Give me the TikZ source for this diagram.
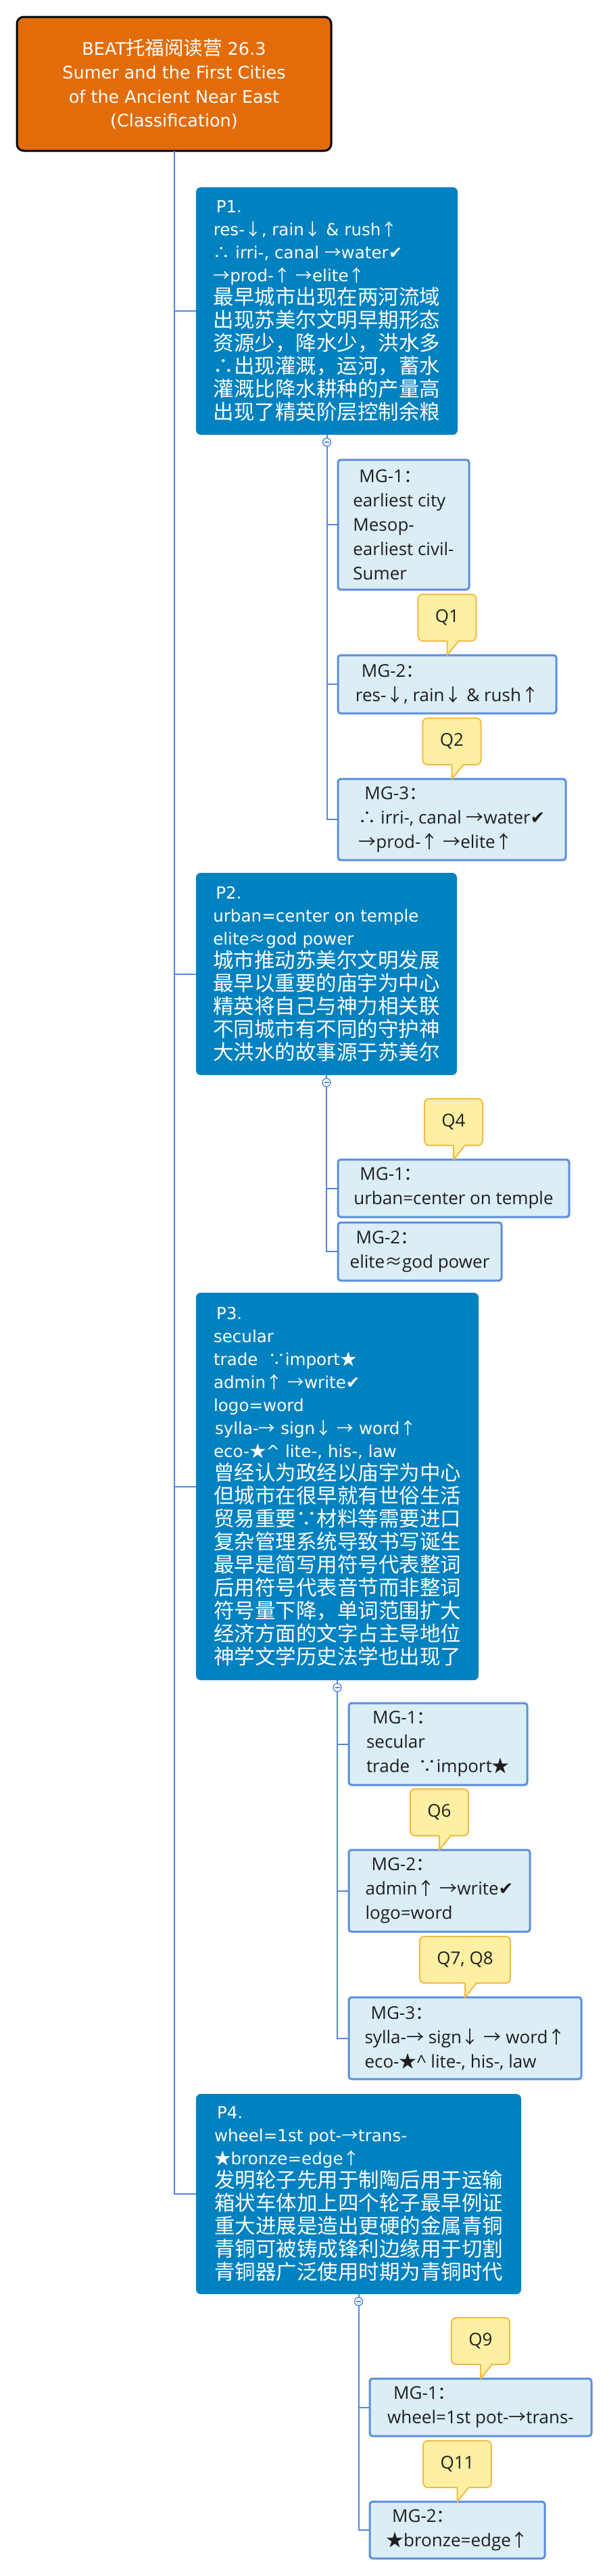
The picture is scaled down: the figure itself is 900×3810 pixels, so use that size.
\documentclass[tikz,border=0pt]{standalone}
\usepackage{fontspec}
\setmainfont{Open Sans}
\newfontfamily\dejavu{DejaVu Sans}
\newfontfamily\cjk{Noto Sans CJK SC}
\usetikzlibrary{positioning}
\definecolor{topicfill}{RGB}{227,108,10}
\definecolor{parafill}{RGB}{0,129,192}
\definecolor{mgfill}{RGB}{219,237,245}
\definecolor{mgline}{RGB}{90,142,220}
\definecolor{linkline}{RGB}{85,135,220}
\definecolor{qfill}{RGB}{253,240,163}
\definecolor{qline}{RGB}{243,186,70}
\definecolor{mgtext}{RGB}{30,30,30}
\newcommand{\zs}[1]{{\cjk #1}}
\newcommand{\hz}[1]{{\cjk\fontsize{30.5}{34}\selectfont #1}}
\newcommand{\chk}{{\dejavu ✔}}

\begin{document}
\begin{tikzpicture}[x=1pt,y=-1pt,
   every node/.style={outer sep=0pt},
   topic/.style={draw=black,line width=3pt,fill=topicfill,rounded corners=10pt,text=white,align=center,
      anchor=north west,minimum width=465pt,minimum height=198pt,font=\dejavu\fontsize{25.5}{35.5}\selectfont},
   para/.style={fill=parafill,rounded corners=7pt,text=white,align=left,anchor=north west,
      font=\dejavu\fontsize{24.6}{34}\selectfont},
   mg/.style={draw=mgline,line width=3pt,fill=mgfill,rounded corners=4pt,text=mgtext,align=left,
      anchor=north west,font=\fontsize{26}{36}\selectfont},
   qtag/.style={draw=qline,line width=2pt,fill=qfill,rounded corners=7pt,text=mgtext,
      font=\fontsize{26}{36}\selectfont,minimum height=69pt,inner xsep=25.5pt},
   qedge/.style={draw=qline,line width=2pt,line join=round},
   link/.style={draw=linkline,line width=2pt},
   fold/.style={circle,draw=linkline,line width=1.4pt,fill=white,minimum size=12pt,inner sep=0pt,
      path picture={\draw[linkline,line width=1.2pt] ([xshift=-3.5pt]path picture bounding box.center)
         -- ([xshift=3.5pt]path picture bounding box.center);}}]

   \useasboundingbox[fill=white] (0,0) rectangle (900,3810);

   \node[topic] (topic) at (25,25) {BEAT{\cjk\fontsize{28.5}{35.5}\selectfont 托福阅读营} 26.3\\Sumer and the First Cities\\of the Ancient Near East\\(Classification)};

   \node[para,minimum width=387pt,minimum height=366pt] (p1) at (290,277) {\hspace*{4pt}P1.\\res-\zs{↓}, rain\zs{↓} \& rush\zs{↑}\\\zs{∴} irri-, canal \zs{→}water\chk\\\zs{→}prod-\zs{↑} \zs{→}elite\zs{↑}\\\hz{最早城市出现在两河流域}\\\hz{出现苏美尔文明早期形态}\\\hz{资源少，降水少，洪水多}\\\hz{∴出现灌溉，运河，蓄水}\\\hz{灌溉比降水耕种的产量高}\\\hz{出现了精英阶层控制余粮}};
   \node[para,minimum width=386pt,minimum height=299pt] (p2) at (290,1291) {\hspace*{4pt}P2.\\urban=center on temple\\elite\zs{≈}god power\\\hz{城市推动苏美尔文明发展}\\\hz{最早以重要的庙宇为中心}\\\hz{精英将自己与神力相关联}\\\hz{不同城市有不同的守护神}\\\hz{大洪水的故事源于苏美尔}};
   \node[para,minimum width=418pt,minimum height=573pt] (p3) at (290,1912) {\hspace*{4pt}P3.\\secular\\trade\ \ \zs{∵}import\zs{★}\\admin\zs{↑} \zs{→}write\chk\\logo=word\\\hspace*{2pt}sylla-\zs{→} sign\zs{↓} \zs{→} word\zs{↑}\\eco-\zs{★}\^{} lite-, his-, law\\\hz{曾经认为政经以庙宇为中心}\\\hz{但城市在很早就有世俗生活}\\\hz{贸易重要∵材料等需要进口}\\\hz{复杂管理系统导致书写诞生}\\\hz{最早是简写用符号代表整词}\\\hz{后用符号代表音节而非整词}\\\hz{符号量下降，单词范围扩大}\\\hz{经济方面的文字占主导地位}\\\hz{神学文学历史法学也出现了}};
   \node[para,minimum width=481pt,minimum height=296pt] (p4) at (290,3097) {\hspace*{4pt}P4.\\wheel=1st pot-\zs{→}trans-\\\zs{★}bronze=edge\zs{↑}\\\hz{发明轮子先用于制陶后用于运输}\\\hz{箱状车体加上四个轮子最早例证}\\\hz{重大进展是造出更硬的金属青铜}\\\hz{青铜可被铸成锋利边缘用于切割}\\\hz{青铜器广泛使用时期为青铜时代}};

   \node[mg,minimum width=194pt,minimum height=192pt] (m11) at (500,680) {\hspace*{9pt}MG-1\zs{：}\\earliest city\\Mesop-\\earliest civil-\\Sumer};
   \node[mg,minimum width=323pt,minimum height=86pt] (m12) at (500,969) {\hspace*{9pt}MG-2\zs{：}\\res-\zs{↓}, rain\zs{↓} \& rush\zs{↑}};
   \node[mg,minimum width=337pt,minimum height=120pt] (m13) at (500,1152) {\hspace*{9pt}MG-3\zs{：}\\\zs{∴} irri-, canal \zs{→}water\chk\\\zs{→}prod-\zs{↑} \zs{→}elite\zs{↑}};
   \node[mg,minimum width=342pt,minimum height=85pt] (m21) at (500,1715) {\hspace*{9pt}MG-1\zs{：}\\urban=center on temple};
   \node[mg,minimum width=242pt,minimum height=86pt] (m22) at (500,1808) {\hspace*{9pt}MG-2\zs{：}\\elite\zs{≈}god power};
   \node[mg,minimum width=264pt,minimum height=121pt] (m31) at (516,2519) {\hspace*{9pt}MG-1\zs{：}\\secular\\trade\ \ \zs{∵}import\zs{★}};
   \node[mg,minimum width=268pt,minimum height=121pt] (m32) at (516,2736) {\hspace*{9pt}MG-2\zs{：}\\admin\zs{↑} \zs{→}write\chk\\logo=word};
   \node[mg,minimum width=344pt,minimum height=121pt] (m33) at (516,2954) {\hspace*{9pt}MG-3\zs{：}\\sylla-\zs{→} sign\zs{↓} \zs{→} word\zs{↑}\\eco-\zs{★}\^{} lite-, his-, law};
   \node[mg,minimum width=328pt,minimum height=85pt] (m41) at (547,3518) {\hspace*{9pt}MG-1\zs{：}\\wheel=1st pot-\zs{→}trans-};
   \node[mg,minimum width=259pt,minimum height=84pt] (m42) at (547,3700) {\hspace*{9pt}MG-2\zs{：}\\\zs{★}bronze=edge\zs{↑}};

   \node[fold,below=5pt of p1] (f1) {};
   \node[fold,below=5pt of p2] (f2) {};
   \node[fold,below=5pt of p3] (f3) {};
   \node[fold,below=5pt of p4] (f4) {};

   \foreach \p in {p1,p2,p3,p4}
      \draw[link] (topic.south) |- (\p.west);
   \foreach \p/\f in {p1/f1,p2/f2,p3/f3,p4/f4}
      \draw[link] (\p.south) -- (\f.north);
   \foreach \f/\m in {f1/m11,f1/m12,f1/m13,f2/m21,f2/m22,f3/m31,f3/m32,f3/m33,f4/m41,f4/m42}
      \draw[link] (\f.south) |- (\m.west);

   \node[qtag,above=21pt of m12] (q1) {Q1};
   \node[qtag,above=21pt of m13] (q2) {Q2};
   \node[qtag,above=21pt of m21] (q4) {Q4};
   \node[qtag,above=21pt of m32] (q6) {Q6};
   \node[qtag,above=21pt of m33] (q78) {Q7, Q8};
   \node[qtag,above=21pt of m41] (q9) {Q9};
   \node[qtag,above=21pt of m42] (q11) {Q11};
   \foreach \q/\m in {q1/m12,q2/m13,q4/m21,q6/m32,q78/m33,q9/m41,q11/m42}{
      \fill[qfill] ([yshift=1.5pt]\q.south) -- (\m.north) -- ([xshift=17pt,yshift=1.5pt]\q.south) -- cycle;
      \draw[qedge] (\q.south) -- (\m.north) -- ([xshift=17pt]\q.south);
   }
\end{tikzpicture}
\end{document}
